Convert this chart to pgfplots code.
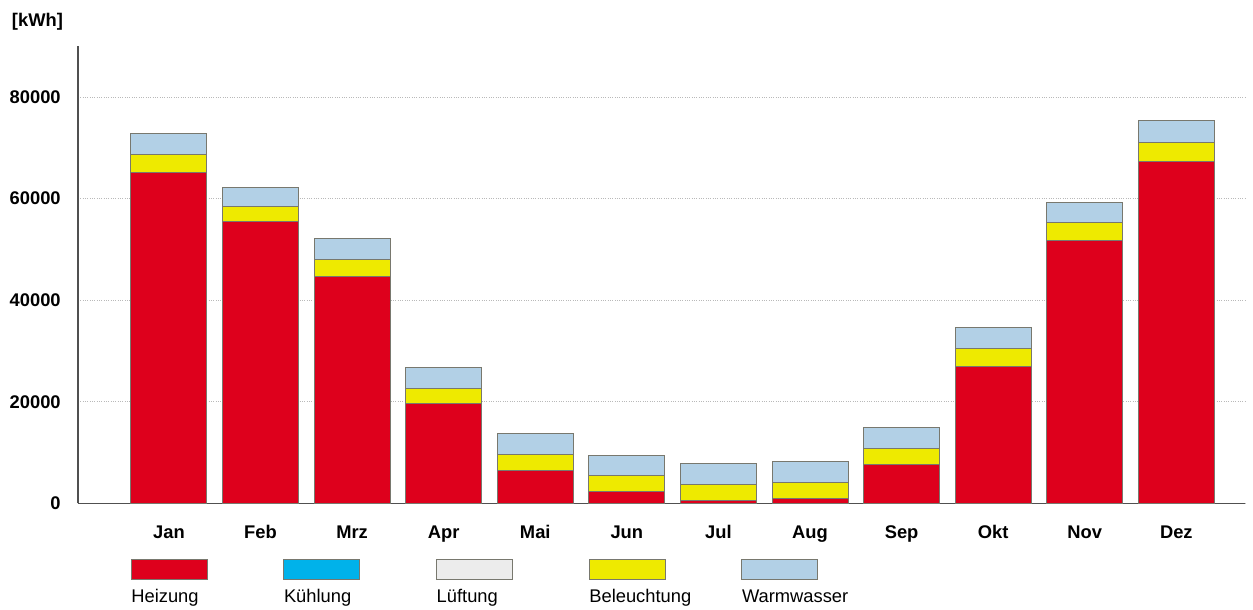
\documentclass[border=0pt]{standalone}
\usepackage{fontspec}
\setmainfont{Liberation Sans}
\usepackage{pgfplots}
\pgfplotsset{compat=1.18}
\usepackage{pgfplotstable}
\definecolor{heiz}{RGB}{222,0,28}
\definecolor{kuehl}{RGB}{0,178,234}
\definecolor{lueft}{RGB}{236,236,236}
\definecolor{bel}{RGB}{238,234,0}
\definecolor{warm}{RGB}{178,208,230}
\definecolor{edge}{RGB}{120,120,110}
\definecolor{axc}{RGB}{80,80,80}

\pgfplotstableread{
x H K L B W
0 65170 0 0 3610 4070
1 55530 0 0 2870 3820
2 44760 0 0 3280 4060
3 19690 0 0 3010 4080
4 6420 0 0 3230 4190
5 2360 0 0 3070 4020
6 590 0 0 3210 4135
7 985 0 0 3145 4140
8 7740 0 0 3150 4130
9 27030 0 0 3410 4270
10 51840 0 0 3410 4080
11 67340 0 0 3740 4250
}\data

\begin{document}
\begin{tikzpicture}[x=1pt,y=1pt]
\useasboundingbox (0,0) rectangle (751.8,366);
\begin{axis}[
  at={(46.8pt,64.0pt)}, anchor=south west,
  scale only axis, width=700.2pt, height=274.2pt,
  xmin=-0.993, xmax=11.75, ymin=0, ymax=90000,
  enlargelimits=false,
  ybar stacked, bar width=45.6pt,
  axis x line=bottom, axis y line=left,
  axis line style={axc, line width=0.9pt, -},
  xtick={0,...,11},
  xticklabels={Jan,Feb,Mrz,Apr,Mai,Jun,Jul,Aug,Sep,Okt,Nov,Dez},
  ytick={0,20000,40000,60000,80000},
  major tick length=0pt,
  scaled y ticks=false,
  /pgf/number format/.cd, 1000 sep={}, assume math mode=true,
  /pgfplots/.cd,
  xticklabel style={font=\fontsize{11}{13}\selectfont\bfseries, anchor=base, inner sep=0pt, yshift=-21pt},
  yticklabel style={font=\fontsize{11}{13}\selectfont\bfseries, anchor=east, inner sep=0pt, xshift=-10.2pt},
  ymajorgrids,
  grid style={densely dotted, gray!55, line width=0.5pt},
  every axis plot/.append style={draw=edge, line width=0.6pt},
]
\addplot[fill=heiz] table[x=x,y=H]{\data};
\addplot[fill=kuehl, draw=none] table[x=x,y=K]{\data};
\addplot[fill=lueft, draw=none] table[x=x,y=L]{\data};
\addplot[fill=bel] table[x=x,y=B]{\data};
\addplot[fill=warm] table[x=x,y=W]{\data};
\end{axis}
\node[anchor=west, inner sep=0pt, font=\fontsize{11}{13}\selectfont\bfseries] at (7.0,352.8) {[kWh]};
\foreach \i/\c/\t in {0/heiz/Heizung,1/kuehl/Kühlung,2/lueft/Lüftung,3/bel/Beleuchtung,4/warm/Warmwasser}{
  \pgfmathsetmacro{\xl}{78.6+\i*91.6}
  \draw[edge, line width=0.6pt, fill=\c] (\xl,18) rectangle ++(45.6,12);
  \node[anchor=base west, inner sep=0pt, font=\fontsize{11}{13}\selectfont] at (\xl,4.2) {\t};
}
\end{tikzpicture}
\end{document}
